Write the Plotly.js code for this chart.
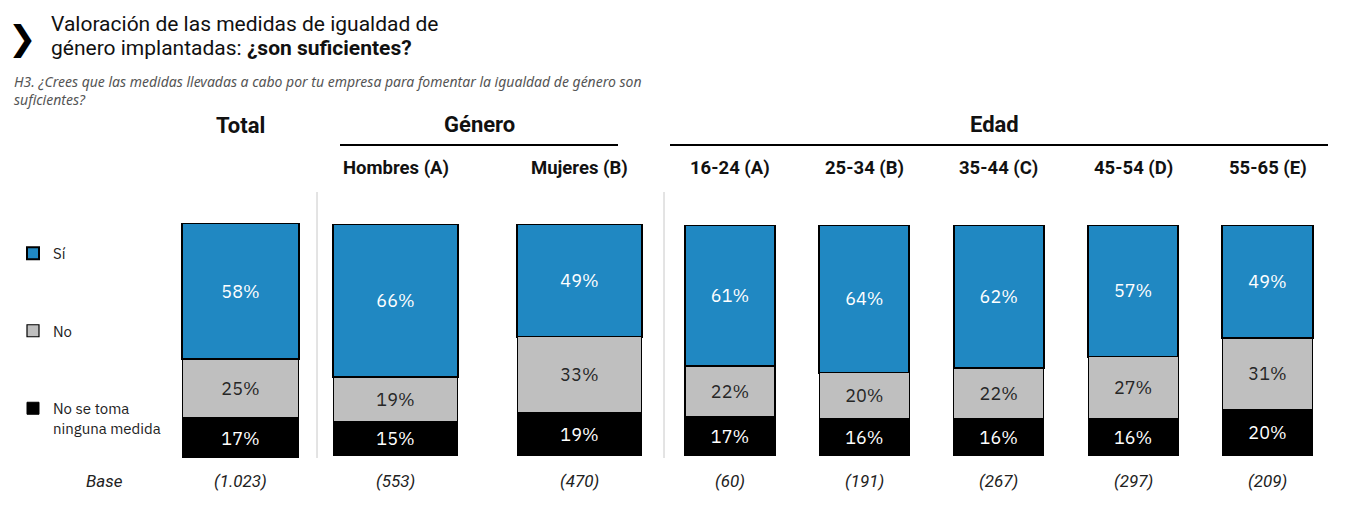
<!DOCTYPE html>
<html>
<head>
<meta charset="utf-8">
<script src="https://cdn.plot.ly/plotly-3.0.1.min.js"></script>
<style>html,body{margin:0;padding:0;background:#fff;}#chart{width:1360px;height:527px;}</style>
</head>
<body>
<div id="chart"></div>
<script>
// ---- Data ----
const seriesNames = ['Sí', 'No', 'No se toma<br>ninguna medida'];
const groupTitles = ['Total', 'Género', 'Edad'];

const categoriesTotal = ['Total'];
const categoriesGenero = ['Hombres (A)', 'Mujeres (B)'];
const categoriesEdad = ['16-24 (A)', '25-34 (B)', '35-44 (C)', '45-54 (D)', '55-65 (E)'];

const siTotal = [58];
const noTotal = [25];
const ningunaTotal = [17];

const siGenero = [66, 49];
const noGenero = [19, 33];
const ningunaGenero = [15, 19];

const siEdad = [61, 64, 62, 57, 49];
const noEdad = [22, 20, 22, 27, 31];
const ningunaEdad = [17, 16, 16, 16, 20];

const baseLabel = 'Base';
const baseTotal = ['(1.023)'];
const baseGenero = ['(553)', '(470)'];
const baseEdad = ['(60)', '(191)', '(267)', '(297)', '(209)'];

const titleLine1 = 'Valoración de las medidas de igualdad de';
const titleLine2 = 'género implantadas: <b>¿son suficientes?</b>';
const subtitle = 'H3. ¿Crees que las medidas llevadas a cabo por tu empresa para fomentar la igualdad de género son<br>suficientes?';

// ---- Styles ----
const W = 1360, H = 527;
const px = v => v / W;
const py = v => 1 - v / H;
const colors = ['#2088c2', '#bfbfbf', '#000000'];
const lineWidths = [2, 1.2, 1];
const textColors = ['#ffffff', '#262626', '#ffffff'];
const labelFont = 'IBM Plex Sans, Noto Sans, sans-serif';
const headFont = 'Roboto, Liberation Sans, sans-serif';

const groups = [
  {cats: categoriesTotal, vals: [siTotal, noTotal, ningunaTotal], base: baseTotal, xa: 'x', ya: 'y', width: 0.959},
  {cats: categoriesGenero, vals: [siGenero, noGenero, ningunaGenero], base: baseGenero, xa: 'x2', ya: 'y2', width: 0.674},
  {cats: categoriesEdad, vals: [siEdad, noEdad, ningunaEdad], base: baseEdad, xa: 'x3', ya: 'y3', width: 0.67}
];

const traces = [];
groups.forEach((g, gi) => {
  g.vals.forEach((vals, si) => {
    traces.push({
      type: 'bar',
      name: seriesNames[si],
      legendgroup: 'g' + si,
      showlegend: gi === 0,
      x: g.cats,
      y: vals,
      xaxis: g.xa,
      yaxis: g.ya,
      width: g.width,
      marker: {color: colors[si], line: {color: '#000', width: lineWidths[si]}},
      text: vals.map(v => v + '%'),
      textposition: 'inside',
      insidetextanchor: 'middle',
      textangle: 0,
      constraintext: 'none',
      textfont: {family: labelFont, size: 18, color: textColors[si]},
      hoverinfo: 'skip'
    });
  });
});

const annotations = [];
// Title
annotations.push({xref: 'paper', yref: 'paper', x: px(22), y: py(38), text: '<b>❯</b>', showarrow: false,
  xanchor: 'center', yanchor: 'middle', font: {family: 'DejaVu Sans', size: 34, color: '#000'}});
annotations.push({xref: 'paper', yref: 'paper', x: px(49), y: py(24), text: titleLine1, showarrow: false,
  xanchor: 'left', yanchor: 'middle', font: {family: headFont, size: 21, color: '#111'}});
annotations.push({xref: 'paper', yref: 'paper', x: px(49), y: py(48), text: titleLine2, showarrow: false,
  xanchor: 'left', yanchor: 'middle', font: {family: headFont, size: 21, color: '#111'}});
annotations.push({xref: 'paper', yref: 'paper', x: px(12), y: py(90), text: '<i>' + subtitle + '</i>', showarrow: false,
  xanchor: 'left', yanchor: 'middle', align: 'left', font: {family: 'Noto Sans, sans-serif', size: 14, color: '#555'}});

// Group titles
annotations.push({xref: 'x', yref: 'paper', x: categoriesTotal[0], y: py(126), text: '<b>' + groupTitles[0] + '</b>', showarrow: false,
  xanchor: 'center', yanchor: 'middle', font: {family: headFont, size: 22, color: '#111'}});
annotations.push({xref: 'paper', yref: 'paper', x: px(479), y: py(124), text: '<b>' + groupTitles[1] + '</b>', showarrow: false,
  xanchor: 'center', yanchor: 'middle', font: {family: headFont, size: 22, color: '#111'}});
annotations.push({xref: 'paper', yref: 'paper', x: px(995), y: py(124), text: '<b>' + groupTitles[2] + '</b>', showarrow: false,
  xanchor: 'center', yanchor: 'middle', font: {family: headFont, size: 22, color: '#111'}});

// Category headers and bases
groups.forEach((g, gi) => {
  g.cats.forEach((c, i) => {
    if (gi > 0) {
      annotations.push({xref: g.xa, yref: 'paper', x: c, y: py(168), text: '<b>' + c + '</b>', showarrow: false,
        xanchor: 'center', yanchor: 'middle', font: {family: headFont, size: 18.5, color: '#111'}});
    }
    annotations.push({xref: g.xa, yref: 'paper', x: c, y: py(481), text: '<i>' + g.base[i] + '</i>', showarrow: false,
      xanchor: 'center', yanchor: 'middle', font: {family: headFont, size: 17, color: '#222'}});
  });
});
annotations.push({xref: 'paper', yref: 'paper', x: px(104), y: py(481), text: '<i>' + baseLabel + '</i>', showarrow: false,
  xanchor: 'center', yanchor: 'middle', font: {family: headFont, size: 17, color: '#222'}});

const shapes = [
  {type: 'line', xref: 'paper', yref: 'paper', x0: px(340), x1: px(618), y0: py(145), y1: py(145), line: {color: '#000', width: 2}},
  {type: 'line', xref: 'paper', yref: 'paper', x0: px(670), x1: px(1328), y0: py(145), y1: py(145), line: {color: '#000', width: 2}},
  {type: 'line', xref: 'paper', yref: 'paper', x0: px(317), x1: px(317), y0: py(192), y1: py(458), line: {color: '#c8c8c8', width: 1}},
  {type: 'line', xref: 'paper', yref: 'paper', x0: px(664), x1: px(664), y0: py(192), y1: py(458), line: {color: '#c8c8c8', width: 1}}
];

const hiddenX = {showgrid: false, zeroline: false, showline: false, showticklabels: false, ticks: '', fixedrange: true};
const hiddenY = {showgrid: false, zeroline: false, showline: false, showticklabels: false, ticks: '', range: [100, 0], fixedrange: true};

const layout = {
  width: W, height: H,
  margin: {l: 0, r: 0, t: 0, b: 0, pad: 0},
  paper_bgcolor: '#fff', plot_bgcolor: 'rgba(0,0,0,0)',
  barmode: 'stack', barnorm: 'percent',
  font: {family: labelFont, color: '#222'},
  showlegend: true,
  legend: {x: px(13), y: py(237), xanchor: 'left', yanchor: 'top', traceorder: 'grouped', tracegroupgap: 55,
    valign: 'top', itemwidth: 30, font: {family: labelFont, size: 15, color: '#222'}, bgcolor: 'rgba(0,0,0,0)'},
  xaxis: Object.assign({}, hiddenX, {domain: [px(180), px(301)], range: [-0.5, 0.5], anchor: 'y'}),
  yaxis: Object.assign({}, hiddenY, {domain: [py(458), py(223)], anchor: 'x'}),
  xaxis2: Object.assign({}, hiddenX, {domain: [px(312.7), px(662.3)], range: [-0.45, 1.45], anchor: 'y2'}),
  yaxis2: Object.assign({}, hiddenY, {domain: [py(456), py(224)], anchor: 'x2'}),
  xaxis3: Object.assign({}, hiddenX, {domain: [px(665.5), px(1332)], range: [-0.48, 4.48], anchor: 'y3'}),
  yaxis3: Object.assign({}, hiddenY, {domain: [py(456), py(225)], anchor: 'x3'}),
  annotations: annotations,
  shapes: shapes
};

Plotly.newPlot('chart', traces, layout, {staticPlot: true, displayModeBar: false});
</script>
</body>
</html>
